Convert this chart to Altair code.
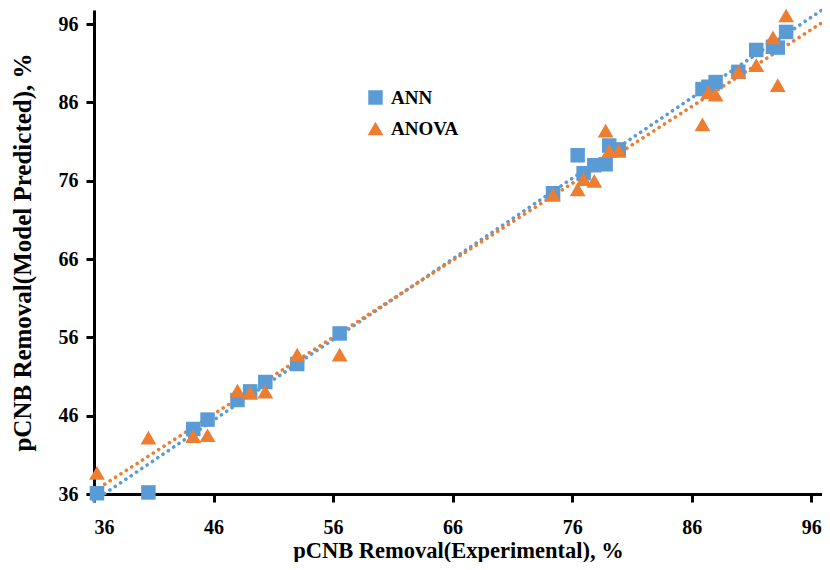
import altair as alt
import pandas as pd

experimental = [36.25, 40.55, 44.3, 45.5, 48.0, 49.06, 50.33, 53.0, 56.55,
                74.4, 76.46, 76.96, 77.85, 78.8, 79.1, 79.9,
                86.9, 87.4, 88.0, 89.9, 91.4, 92.8, 93.2, 93.9]
ann_pred = [36.1, 36.2, 44.3, 45.5, 48.0, 49.1, 50.3, 52.6, 56.5,
            74.4, 79.25, 76.96, 77.98, 78.1, 80.5, 80.0,
            87.7, 88.0, 88.6, 89.9, 92.7, 93.1, 93.0, 95.0]
anova_pred = [38.7, 43.2, 43.4, 43.5, 49.2, 48.9, 49.07, 53.8, 53.8,
              74.2, 74.9, 76.2, 75.97, 82.4, 79.8, 79.8,
              83.2, 87.3, 87.0, 89.9, 90.75, 94.3, 88.2, 97.1]
series_names = ["ANN", "ANOVA"]
series_colors = ["#5B9BD5", "#ED7D31"]
tick_values = [36, 46, 56, 66, 76, 86, 96]

rows = []
for name, preds in zip(series_names, [ann_pred, anova_pred]):
    for e, p in zip(experimental, preds):
        rows.append({"series": name, "exp": e, "pred": p})
df = pd.DataFrame(rows)

FONT = "Liberation Serif"

xs = alt.Scale(domain=[36, 96.9], nice=False, zero=False)
ys = alt.Scale(domain=[36, 97.8], nice=False, zero=False)

xaxis = alt.Axis(values=tick_values, title="pCNB Removal(Experimental), %",
                 labelPadding=15, titleY=63, titleBaseline="alphabetic", titleFontSize=22.5)
yaxis = alt.Axis(values=tick_values, title="pCNB Removal(Model Predicted), %",
                 labelPadding=8, titleX=-72, titleBaseline="middle", titleFontSize=25)

base = alt.Chart(df)

lines = []
for name, col in zip(series_names, series_colors):
    lines.append(
        base.transform_filter(alt.datum.series == name)
        .transform_regression("exp", "pred", extent=[36, 96.9])
        .mark_line(strokeDash=[0.1, 6.3], strokeCap="round", strokeWidth=3.6, color=col)
        .encode(x=alt.X("exp:Q", scale=xs, axis=xaxis),
                y=alt.Y("pred:Q", scale=ys, axis=yaxis))
    )

leg = alt.Legend(title=None, orient="none", legendX=272, legendY=78,
                 symbolSize=420, labelFontSize=19, labelFont=FONT, labelOffset=6,
                 labelFontWeight="bold", rowPadding=10, labelColor="black",
                 symbolOpacity=1)

points = base.mark_point(filled=True, opacity=1).encode(
    x=alt.X("exp:Q", scale=xs, axis=xaxis),
    y=alt.Y("pred:Q", scale=ys, axis=yaxis),
    color=alt.Color("series:N", scale=alt.Scale(domain=series_names, range=series_colors),
                    legend=leg),
    shape=alt.Shape("series:N", scale=alt.Scale(domain=series_names, range=["square", "triangle-up"]),
                    legend=leg),
    size=alt.Size("series:N", scale=alt.Scale(domain=series_names, range=[210, 250]), legend=None),
)

chart = alt.layer(*lines, points).properties(
    width=728, height=484,
    autosize=alt.AutoSizeParams(type="none"),
    padding={"left": 86, "top": 2, "right": 0, "bottom": 68},
).configure_view(stroke=None).configure_axis(
    grid=False, domainColor="black", domainWidth=3, tickColor="black", tickWidth=3,
    tickSize=8, labelFont=FONT, labelFontSize=20, labelFontWeight="bold", labelColor="black",
    titleFont=FONT, titleFontWeight="bold", titleColor="black",
)

chart.save("out.html", embed_options={"renderer": "svg", "actions": False})
